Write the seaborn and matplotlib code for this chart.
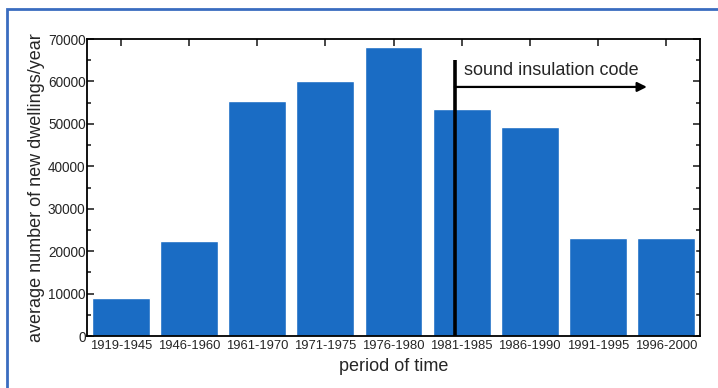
#!/usr/bin/env python3

import pandas as pd
import matplotlib.pyplot as plt
import seaborn as sns
from matplotlib.patches import Rectangle
from matplotlib.ticker import MultipleLocator

periods = ['1919-1945', '1946-1960', '1961-1970', '1971-1975', '1976-1980',
           '1981-1985', '1986-1990', '1991-1995', '1996-2000']
dwellings = [9000, 22500, 55500, 60000, 68000, 53500, 49200, 23000, 23000]

df = pd.DataFrame({'period': periods, 'dwellings': dwellings})

sns.set_style('ticks')
plt.rcParams['font.family'] = ['Liberation Sans', 'DejaVu Sans']

fig = plt.figure(figsize=(7.18, 3.88), dpi=100)
ax = fig.add_axes([87 / 718, 1 - 336 / 388, 613 / 718, 297 / 388])

sns.barplot(data=df, x='period', y='dwellings', color='#1a6cc4',
            saturation=1, width=0.85, ax=ax)

ax.set_xlim(-0.5, 8.5)
ax.set_ylim(0, 70000)
ax.yaxis.set_major_locator(MultipleLocator(10000))
ax.yaxis.set_minor_locator(MultipleLocator(5000))
ax.tick_params(axis='both', which='both', direction='in', top=True, right=True,
               pad=2, width=1.2)
ax.tick_params(axis='both', which='major', length=5)
ax.tick_params(axis='y', which='minor', length=3)
ax.tick_params(axis='x', which='major', labelsize=9.4, pad=3)
ax.tick_params(axis='y', which='major', labelsize=9.8, pad=1)
for s in ax.spines.values():
    s.set_linewidth(1.3)
    s.set_color('black')

ax.set_xlabel('period of time', fontsize=13, labelpad=4)
ax.set_ylabel('average number of new dwellings/year', fontsize=13, labelpad=2)

# sound insulation code marker
ax.plot([4.9, 4.9], [0, 65000], color='black', lw=2.6, solid_capstyle='butt')
ax.annotate('', xy=(7.72, 58700), xytext=(4.9, 58700),
            arrowprops=dict(arrowstyle='-|>', color='black', lw=1.6,
                            mutation_scale=14, shrinkA=0, shrinkB=0))
ax.text(5.03, 62500, 'sound insulation code', fontsize=13, va='center', ha='left')

fig.patches.append(Rectangle((7 / 718, -0.1), 1.2, 1 - 9 / 388 + 0.1,
                             transform=fig.transFigure, fill=False,
                             edgecolor='#3a6cc0', lw=2))

plt.savefig('out.png', dpi=100)
plt.close()
